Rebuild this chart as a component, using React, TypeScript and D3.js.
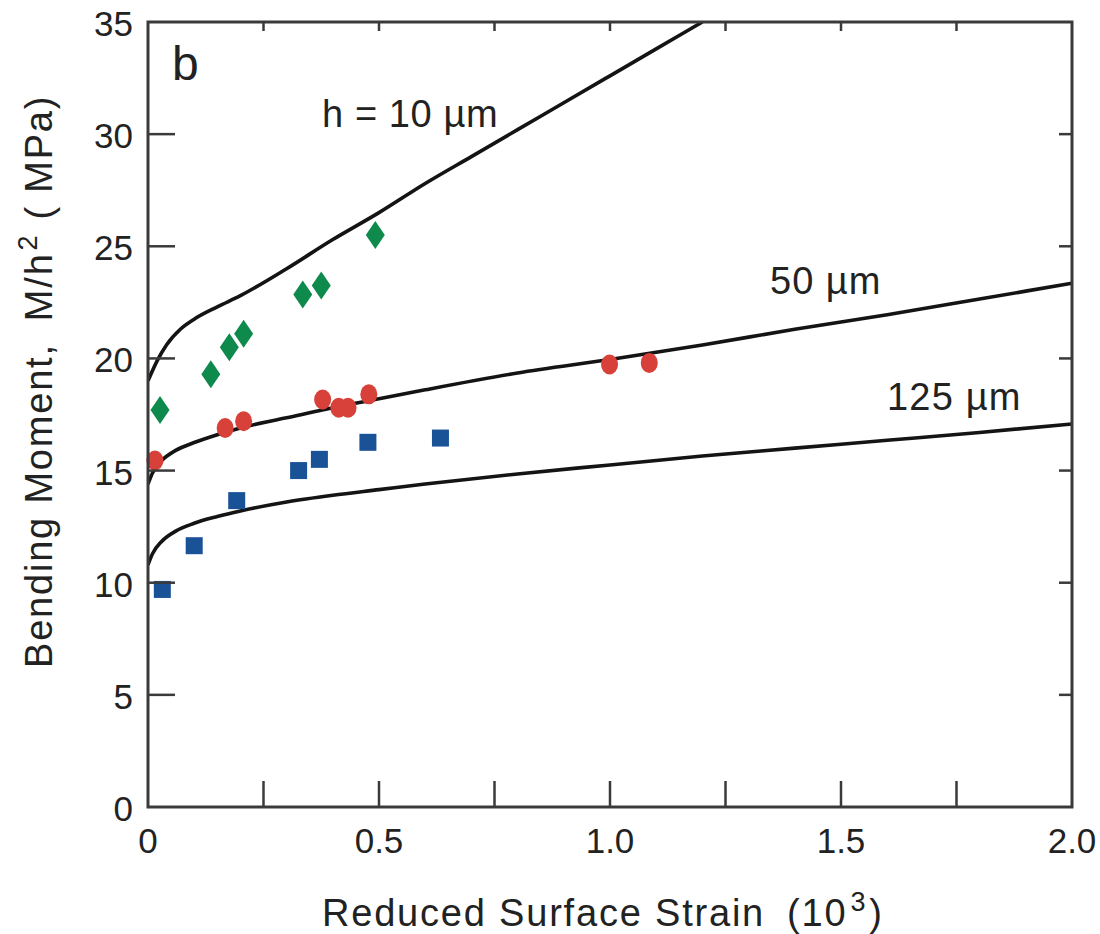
import React from "react";
import * as d3 from "d3";

// Model curves: [reduced surface strain (10^3), M/h^2 (MPa)]
const curve10: [number, number][] = [
  [0, 19.0], [0.02, 19.9], [0.04, 20.6], [0.07, 21.3], [0.1, 21.75], [0.15, 22.3],
  [0.2, 22.8], [0.3, 24.0], [0.4, 25.3], [0.5, 26.5], [0.6, 27.8], [0.7, 29.0],
  [0.8, 30.2], [0.9, 31.4], [1.0, 32.6], [1.1, 33.8], [1.2, 35.0],
];
const curve50: [number, number][] = [
  [0, 14.4], [0.01, 14.9], [0.03, 15.45], [0.06, 15.9], [0.1, 16.25], [0.15, 16.6],
  [0.2, 16.9], [0.3, 17.35], [0.4, 17.8], [0.5, 18.2], [0.6, 18.6], [0.8, 19.35],
  [1.0, 19.95], [1.2, 20.6], [1.4, 21.3], [1.6, 21.95], [1.8, 22.65], [2.0, 23.35],
];
const curve125: [number, number][] = [
  [0, 10.8], [0.01, 11.3], [0.03, 11.85], [0.06, 12.3], [0.1, 12.65], [0.15, 12.95],
  [0.2, 13.2], [0.3, 13.6], [0.4, 13.9], [0.5, 14.15], [0.6, 14.4], [0.8, 14.85],
  [1.0, 15.25], [1.2, 15.65], [1.4, 16.0], [1.6, 16.35], [1.8, 16.7], [2.0, 17.08],
];

// Measured points
const pts10: [number, number][] = [
  [0.026, 17.7], [0.136, 19.3], [0.176, 20.5], [0.207, 21.1], [0.335, 22.85], [0.375, 23.25], [0.492, 25.5],
];
const pts50: [number, number][] = [
  [0.015, 15.45], [0.167, 16.9], [0.207, 17.2], [0.378, 18.17], [0.413, 17.8], [0.433, 17.8],
  [0.478, 18.4], [0.999, 19.73], [1.085, 19.8],
];
const pts125: [number, number][] = [
  [0.031, 9.7], [0.1, 11.65], [0.192, 13.66], [0.326, 15.0], [0.371, 15.5], [0.476, 16.26], [0.633, 16.45],
];

const xMajorTicks = [0, 0.5, 1.0, 1.5, 2.0];
const xTickLabels = ["0", "0.5", "1.0", "1.5", "2.0"];
const xMinorTicks = [0.25, 0.5, 0.75, 1.0, 1.25, 1.5, 1.75];
const yTicks = [0, 5, 10, 15, 20, 25, 30, 35];

const W = 1100;
const H = 934;
const L = 148, R = 1072, T = 22, B = 807;

export default function App() {
  const x = d3.scaleLinear().domain([0, 2]).range([L, R]);
  const y = d3.scaleLinear().domain([0, 35]).range([B, T]);
  const line = d3
    .line<[number, number]>()
    .x((d) => x(d[0]))
    .y((d) => y(d[1]))
    .curve(d3.curveMonotoneX);

  const font = "'Liberation Sans', Arial, Helvetica, sans-serif";
  const axisColor = "#3a3a3a";
  const green = "#0e8a4c";
  const red = "#d8403a";
  const blue = "#1a5298";

  return (
    <svg
      width={W}
      height={H}
      style={{ position: "absolute", left: 0, top: 0, background: "#fff" }}
      fontFamily={font}
    >
      <defs>
        <clipPath id="plot">
          <rect x={L} y={T} width={R - L} height={B - T} />
        </clipPath>
      </defs>
      <rect x={0} y={0} width={W} height={H} fill="#fff" />

      {/* curves */}
      <g clipPath="url(#plot)" fill="none" stroke="#141414" strokeWidth={3.6}>
        <path d={line(curve10) || ""} />
        <path d={line(curve50) || ""} />
        <path d={line(curve125) || ""} />
      </g>

      {/* points */}
      <g fill={green}>
        {pts10.map((d, i) => {
          const cx = x(d[0]), cy = y(d[1]);
          return (
            <path key={i} d={`M${cx},${cy - 14}L${cx + 9.5},${cy}L${cx},${cy + 14}L${cx - 9.5},${cy}Z`} />
          );
        })}
      </g>
      <g fill={red}>
        {pts50.map((d, i) => (
          <ellipse key={i} cx={x(d[0])} cy={y(d[1])} rx={8.5} ry={10} />
        ))}
      </g>
      <g fill={blue}>
        {pts125.map((d, i) => (
          <rect key={i} x={x(d[0]) - 8.5} y={y(d[1]) - 8.5} width={17} height={17} />
        ))}
      </g>

      {/* frame */}
      <rect x={L} y={T} width={R - L} height={B - T} fill="none" stroke={axisColor} strokeWidth={3} />

      {/* ticks */}
      <g stroke={axisColor} strokeWidth={2.5}>
        {xMinorTicks.map((t) => (
          <line key={"b" + t} x1={x(t)} x2={x(t)} y1={B} y2={B - 26} />
        ))}
        {xMinorTicks.map((t) => (
          <line key={"t" + t} x1={x(t)} x2={x(t)} y1={T} y2={T + 9} />
        ))}
        {yTicks.slice(1, -1).map((t) => (
          <line key={"l" + t} x1={L} x2={L + 27} y1={y(t)} y2={y(t)} />
        ))}
        {yTicks.slice(1, -1).map((t) => (
          <line key={"r" + t} x1={R} x2={R - 13} y1={y(t)} y2={y(t)} />
        ))}
      </g>

      {/* tick labels */}
      <g fill="#222" fontSize={35}>
        {xMajorTicks.map((t, i) => (
          <text key={t} x={x(t)} y={853} textAnchor="middle">
            {xTickLabels[i]}
          </text>
        ))}
        {yTicks.map((t) => (
          <text key={t} x={133} y={y(t) + 14} textAnchor="end">
            {t}
          </text>
        ))}
      </g>

      {/* axis titles */}
      <text x={322} y={926} fontSize={38} fill="#222" letterSpacing={1.8}>
        Reduced Surface Strain
        <tspan dx={22}>(10</tspan>
        <tspan fontSize={27} dx={3} dy={-15}>3</tspan>
        <tspan dx={2} dy={15}>)</tspan>
      </text>
      <text transform="translate(52,668) rotate(-90)" fontSize={38} fill="#222" letterSpacing={1.8}>
        Bending Moment,
        <tspan dx={22}>M/h</tspan>
        <tspan fontSize={27} dx={2} dy={-15}>2</tspan>
        <tspan dx={14} dy={15}>( MPa)</tspan>
      </text>

      {/* annotations */}
      <text x={172} y={80} fontSize={48} fill="#222">b</text>
      <text x={322} y={127} fontSize={38} fill="#222" letterSpacing={0.6}>h = 10 µm</text>
      <text x={770} y={294} fontSize={38} fill="#222" letterSpacing={1}>50 µm</text>
      <text x={887} y={410} fontSize={38} fill="#222" letterSpacing={1.2}>125 µm</text>
    </svg>
  );
}
